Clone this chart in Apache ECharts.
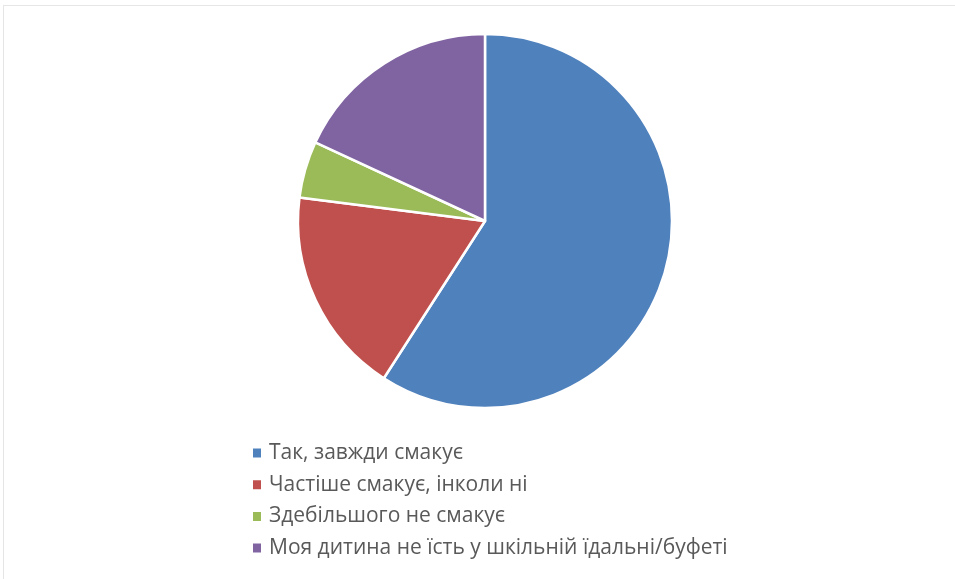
<!DOCTYPE html>
<html>
<head>
<meta charset="utf-8">
<script src="https://cdn.jsdelivr.net/npm/echarts@6/dist/echarts.min.js"></script>
<style>
  html, body { margin: 0; padding: 0; background: #ffffff; }
  #wrap { position: absolute; left: 0; top: 0; width: 955px; height: 579px; background: #fff; }
  #frame { position: absolute; left: 3px; top: 5px; width: 960px; height: 600px; border: 1px solid #e6e6e6; box-sizing: border-box; }
  #chart { position: absolute; left: 0; top: 0; width: 955px; height: 579px; }
</style>
</head>
<body>
<div id="wrap"><div id="frame"></div><div id="chart"></div></div>
<script>
const categories = [
  'Так, завжди смакує',
  'Частіше смакує, інколи ні',
  'Здебільшого не смакує',
  'Моя дитина не їсть у шкільній їдальні/буфеті'
];
const values = [59.1, 17.9, 4.9, 18.1];
const colors = ['#4f81bd', '#c0504d', '#9bbb59', '#8064a2'];

const chart = echarts.init(document.getElementById('chart'), null, { renderer: 'canvas' });
chart.setOption({
  animation: false,
  color: colors,
  legend: {
    orient: 'vertical',
    left: 246,
    top: 436,
    icon: 'rect',
    itemWidth: 10,
    itemHeight: 11,
    itemGap: 7.7,
    data: categories,
    textStyle: {
      fontFamily: '"Open Sans", sans-serif',
      fontSize: 21,
      color: '#595959',
      lineHeight: 24,
      padding: [0, 0, 0, 2]
    }
  },
  series: [{
    type: 'pie',
    center: [485, 221],
    radius: 187,
    startAngle: 90,
    clockwise: true,
    label: { show: false },
    labelLine: { show: false },
    itemStyle: { borderColor: '#ffffff', borderWidth: 2.5 },
    emphasis: { disabled: true },
    data: categories.map((c, i) => ({ name: c, value: values[i] }))
  }]
});
</script>
</body>
</html>
